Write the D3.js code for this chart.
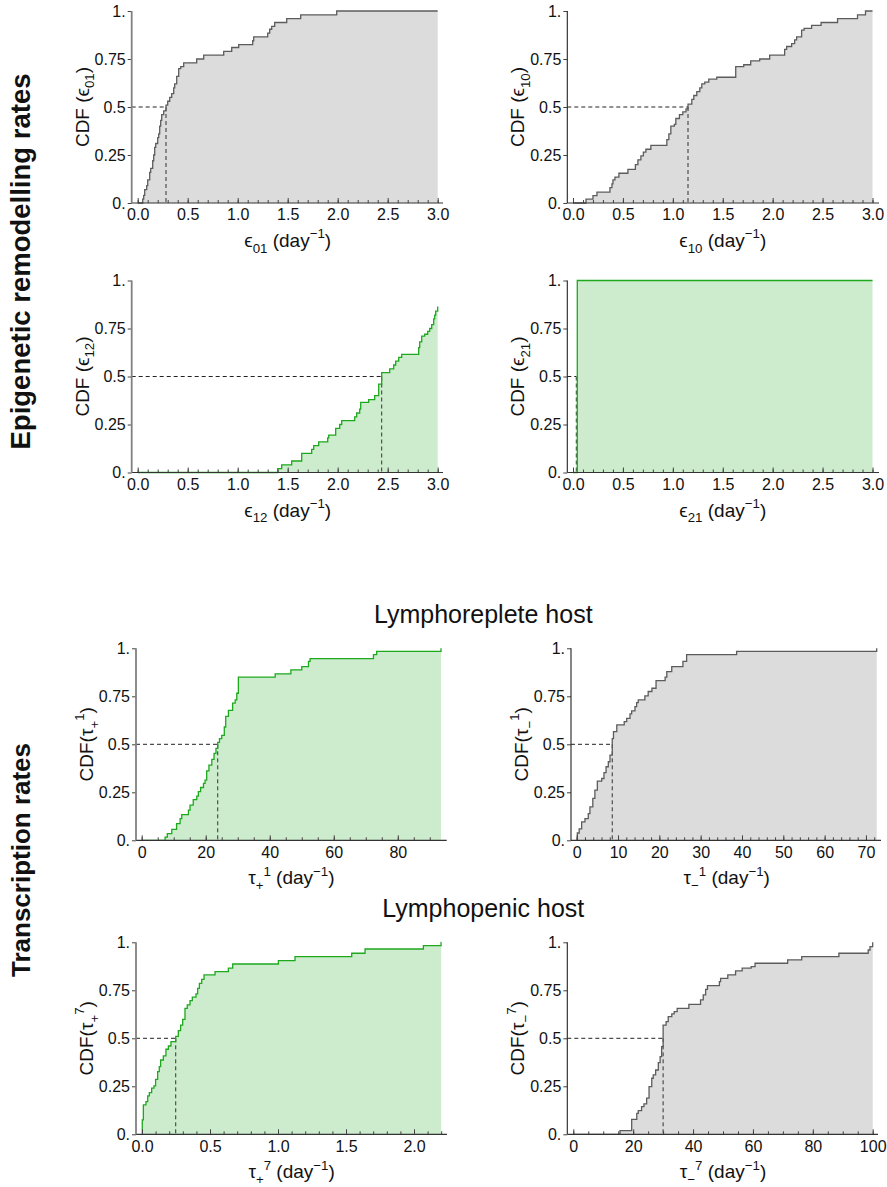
<!DOCTYPE html>
<html>
<head>
<meta charset="utf-8">
<script src="https://cdnjs.cloudflare.com/ajax/libs/d3/7.8.5/d3.min.js"></script>
<style>
body { margin: 0; background: #fff; }
svg { display: block; font-family: "Liberation Sans", Arial, Helvetica, sans-serif; }
</style>
</head>
<body>
<svg width="887" height="1187"></svg>
<script>
// step points: x where the CDF jumps, CDF level after the jump
var e01X = [0.05,0.06,0.07,0.09,0.10,0.12,0.13,0.15,0.16,0.17,0.18,0.20,0.21,0.22,0.23,0.24,0.26,0.283,0.30,0.32,
            0.34,0.36,0.37,0.39,0.41,0.43,0.46,0.59,0.66,0.86,0.94,1.01,1.15,1.16,1.30,1.32,1.34,1.37,1.49,1.63,1.99];
var e01Y = [0.02,0.04,0.07,0.09,0.12,0.16,0.18,0.22,0.25,0.29,0.31,0.34,0.36,0.40,0.43,0.46,0.48,0.51,0.53,0.55,
            0.57,0.60,0.62,0.66,0.70,0.71,0.73,0.75,0.77,0.79,0.81,0.825,0.845,0.865,0.885,0.905,0.92,0.94,0.96,0.98,1.0];

var e10X = [0.13,0.20,0.24,0.37,0.39,0.40,0.42,0.46,0.55,0.625,0.65,0.68,0.705,0.73,0.78,0.94,0.96,0.98,1.015,1.03,
            1.066,1.10,1.132,1.152,1.19,1.21,1.24,1.27,1.29,1.32,1.36,1.44,1.63,1.71,1.78,1.87,1.97,2.12,2.14,2.19,
            2.22,2.24,2.29,2.315,2.39,2.485,2.65,2.85,2.93];
var e10Y = [0.02,0.038,0.057,0.08,0.10,0.12,0.135,0.155,0.175,0.20,0.225,0.245,0.265,0.28,0.30,0.33,0.36,0.40,0.41,0.44,
            0.46,0.475,0.49,0.515,0.54,0.56,0.58,0.60,0.62,0.63,0.645,0.655,0.71,0.72,0.74,0.75,0.77,0.80,0.815,0.83,
            0.85,0.865,0.90,0.91,0.925,0.94,0.96,0.98,1.0];

var e12X = [1.40,1.44,1.54,1.64,1.74,1.76,1.81,1.90,1.91,1.98,2.02,2.04,2.17,2.19,2.22,2.23,2.31,2.37,2.41,2.44,
            2.52,2.56,2.58,2.61,2.64,2.81,2.82,2.84,2.87,2.90,2.92,2.94,2.96,2.97,2.98,3.0];
var e12Y = [0.02,0.04,0.06,0.10,0.12,0.14,0.16,0.18,0.195,0.23,0.25,0.27,0.29,0.31,0.33,0.365,0.38,0.40,0.46,0.52,
            0.54,0.56,0.58,0.60,0.615,0.65,0.68,0.71,0.72,0.735,0.75,0.77,0.80,0.82,0.84,0.865];

var e21X = [0.043];
var e21Y = [1.0];

var tp1X = [7.3,8.0,9.4,10.9,12.0,12.5,14.6,15.1,16.1,17.2,17.7,18.4,19.3,19.8,20.3,21.0,21.9,22.6,23.2,23.75,
            24.3,25.0,25.8,26.25,27.1,28.4,29.2,29.7,30.2,41.7,46.6,50.0,52.1,52.6,72.4,73.4,93.5];
var tp1Y = [0.017,0.035,0.057,0.087,0.113,0.134,0.157,0.183,0.212,0.23,0.253,0.275,0.296,0.313,0.362,0.392,0.422,0.453,0.479,0.51,
            0.53,0.547,0.59,0.645,0.677,0.714,0.731,0.766,0.85,0.867,0.888,0.905,0.932,0.946,0.967,0.984,1.0];

var tm1X = [0.15,0.6,1.2,2.0,2.8,3.2,3.9,4.4,5.0,6.05,6.6,7.1,7.65,8.06,8.6,8.9,9.7,11.5,12.1,12.9,
            13.3,14.1,14.5,14.9,16.5,17.3,18.2,19.2,21.4,21.8,23.0,25.7,26.6,38.7,72.6];
var tm1Y = [0.038,0.06,0.096,0.113,0.139,0.174,0.218,0.261,0.308,0.322,0.352,0.383,0.409,0.444,0.53,0.566,0.601,0.618,0.635,0.658,
            0.674,0.696,0.717,0.731,0.752,0.775,0.792,0.832,0.85,0.879,0.905,0.932,0.967,0.984,1.0];

var tp7X = [0.002,0.01,0.029,0.042,0.054,0.071,0.088,0.10,0.115,0.127,0.137,0.157,0.176,0.194,0.213,0.248,0.267,0.284,0.299,0.316,
            0.333,0.353,0.37,0.397,0.409,0.422,0.439,0.456,0.537,0.635,0.667,1.003,1.125,1.542,1.64,2.069,2.199];
var tp7Y = [0.075,0.153,0.17,0.2,0.217,0.24,0.252,0.286,0.326,0.352,0.387,0.408,0.443,0.46,0.483,0.51,0.54,0.569,0.599,0.656,
            0.674,0.696,0.714,0.731,0.76,0.786,0.807,0.83,0.847,0.865,0.887,0.905,0.925,0.943,0.965,0.983,1.0];

var tm7X = [15.6,19.5,21.2,21.7,22.8,23.6,24.5,25.3,26.2,26.7,27.5,28.4,29.0,29.5,30.0,31.0,31.7,32.9,33.7,34.7,
            38.6,42.5,43.4,44.2,44.8,48.8,49.2,51.6,54.2,56.4,59.4,60.7,71.6,76.3,88.7,98.5,99.1,100];
var tm7Y = [0.019,0.078,0.109,0.123,0.144,0.158,0.188,0.248,0.292,0.309,0.335,0.373,0.405,0.457,0.569,0.587,0.613,0.627,0.639,0.656,
            0.677,0.70,0.726,0.755,0.774,0.795,0.812,0.83,0.851,0.865,0.873,0.891,0.908,0.925,0.943,0.96,0.977,1.0];

// medians (dashed guides)
var medians = [0.283, 1.152, 2.44, 0.033, 23.75, 8.6, 0.248, 30.0];

// ticks
var yTicks = [0, 0.25, 0.5, 0.75, 1];
var yTickLabels = ["0.", "0.25", "0.5", "0.75", "1."];
var epiTicks = [0, 0.5, 1, 1.5, 2, 2.5, 3];
var tp1Ticks = [0, 20, 40, 60, 80];
var tm1Ticks = [0, 10, 20, 30, 40, 50, 60, 70];
var tp7Ticks = [0, 0.5, 1, 1.5, 2];
var tm7Ticks = [0, 20, 40, 60, 80, 100];

var titles = ["Lymphoreplete host", "Lymphopenic host"];
var rowLabels = ["Epigenetic remodelling rates", "Transcription rates"];

// label pieces: 0 normal, 1 subscript, 2 superscript
function epsY(s) { return [["CDF (\u03f5", 0], [s, 1], [")", 0]]; }
function epsX(s) { return [["\u03f5", 0], [s, 1], [" (day", 0], ["\u22121", 2], [")", 0]]; }
function tauY(s, k) { return [["CDF(\u03c4", 0], [s, 1], [k, 2], [")", 0]]; }
function tauX(s, k) { return [["\u03c4", 0], [s, 1], [k, 2], [" (day", 0], ["\u22121", 2], [")", 0]]; }

var H = 192;
var f1 = d3.format(".1f"), f0 = d3.format("d");

var panels = [
    {xs: e01X, ys: e01Y, med: medians[0], dom: [0, 3], rng: [137.7, 437.7], top: 11, ax: 131.7, axEnd: 443, green: false, left: true,
     ticks: epiTicks, minor: 0.1, fmt: f1, ylab: epsY("01"), xlab: epsX("01")},
    {xs: e10X, ys: e10Y, med: medians[1], dom: [0, 3], rng: [573, 872.5], top: 11, ax: 567.3, axEnd: 879, green: false, left: false,
     ticks: epiTicks, minor: 0.1, fmt: f1, ylab: epsY("10"), xlab: epsX("10")},
    {xs: e12X, ys: e12Y, med: medians[2], dom: [0, 3], rng: [137.7, 437.7], top: 280.5, ax: 131.7, axEnd: 443, green: true, left: true,
     ticks: epiTicks, minor: 0.1, fmt: f1, ylab: epsY("12"), xlab: epsX("12")},
    {xs: e21X, ys: e21Y, med: medians[3], dom: [0, 3], rng: [573, 872.5], top: 280.5, ax: 567.3, axEnd: 879, green: true, left: false,
     ticks: epiTicks, minor: 0.1, fmt: f1, ylab: epsY("21"), xlab: epsX("21")},
    {xs: tp1X, ys: tp1Y, med: medians[4], dom: [0, 93.5], rng: [141.7, 441], top: 648.3, ax: 136, axEnd: 446.7, green: true, left: true,
     ticks: tp1Ticks, minor: 5, fmt: f0, ylab: tauY("+", "1"), xlab: tauX("+", "1")},
    {xs: tm1X, ys: tm1Y, med: medians[5], dom: [0, 72.6], rng: [576.7, 876.7], top: 648.3, ax: 571, axEnd: 881, green: false, left: false,
     ticks: tm1Ticks, minor: 2, fmt: f0, ylab: tauY("\u2212", "1"), xlab: tauX("\u2212", "1")},
    {xs: tp7X, ys: tp7Y, med: medians[6], dom: [0, 2.2], rng: [142, 441.2], top: 942.3, ax: 136, axEnd: 447, green: true, left: true,
     ticks: tp7Ticks, minor: 0.1, fmt: f1, ylab: tauY("+", "7"), xlab: tauX("+", "7")},
    {xs: tm7X, ys: tm7Y, med: medians[7], dom: [0, 100], rng: [573.3, 872.7], top: 942.3, ax: 567.3, axEnd: 878, green: false, left: false,
     ticks: tm7Ticks, minor: 5, fmt: f0, ylab: tauY("\u2212", "7"), xlab: tauX("\u2212", "7")}
];

var svg = d3.select("svg");

function richText(sel, parts, size) {
    var cur = 0;
    parts.forEach(function (p) {
        var shift = p[1] == 1 ? 0.3 : (p[1] == 2 ? -0.45 : 0);
        var fs = p[1] ? size * 0.7 : size;
        sel.append("tspan")
            .attr("dy", ((shift - cur) * size).toFixed(2))
            .style("font-size", fs + "px")
            .text(p[0]);
        cur = shift;
    });
}

panels.forEach(function (p) {
    var g = svg.append("g");
    var x = d3.scaleLinear().domain(p.dom).range(p.rng);
    var y = d3.scaleLinear().domain([0, 1]).range([p.top + H, p.top]);

    var pts = [[p.dom[0], 0]];
    p.xs.forEach(function (v, i) { pts.push([v, p.ys[i]]); });
    if (pts[pts.length - 1][0] < p.dom[1]) pts.push([p.dom[1], pts[pts.length - 1][1]]);

    var lineCol = p.green ? "#1ea81e" : "#5c5c5c";
    var fillCol = p.green ? "#cdeccd" : "#dcdcdc";

    var area = d3.area().curve(d3.curveStepAfter)
        .x(function (d) { return x(d[0]); })
        .y0(y(0))
        .y1(function (d) { return y(d[1]); });
    var line = d3.line().curve(d3.curveStepAfter)
        .x(function (d) { return x(d[0]); })
        .y(function (d) { return y(d[1]); });

    g.append("path").datum(pts).attr("d", area).attr("fill", fillCol);

    // median guides
    g.append("line")
        .attr("x1", p.ax).attr("x2", x(p.med))
        .attr("y1", y(0.5)).attr("y2", y(0.5))
        .attr("stroke", "#222").attr("stroke-width", 1).attr("stroke-dasharray", "4,3");
    g.append("line")
        .attr("x1", x(p.med)).attr("x2", x(p.med))
        .attr("y1", y(0.5)).attr("y2", y(0))
        .attr("stroke", "#333").attr("stroke-width", 1).attr("stroke-dasharray", "4,3");

    g.append("path").datum(pts).attr("d", line)
        .attr("fill", "none").attr("stroke", lineCol).attr("stroke-width", 1.3);

    // x axis: minor + major ticks pointing up
    var minorTicks = d3.range(p.dom[0], p.dom[1] + 1e-9, p.minor);
    var gxm = g.append("g").attr("transform", "translate(0," + y(0) + ")")
        .call(d3.axisBottom(x).tickValues(minorTicks).tickSize(-3).tickSizeOuter(0).tickFormat(""));
    var gx = g.append("g").attr("transform", "translate(0," + y(0) + ")")
        .call(d3.axisBottom(x).tickValues(p.ticks).tickSize(-5).tickSizeOuter(0).tickPadding(6).tickFormat(p.fmt));
    [gxm, gx].forEach(function (a) {
        a.select(".domain").remove();
        a.selectAll(".tick line").attr("stroke", "#444");
    });
    gx.selectAll("text").style("font-size", "16px").attr("fill", "#111")
        .style("font-family", '"Liberation Sans", Arial, sans-serif');

    g.append("line")
        .attr("x1", p.ax).attr("x2", p.axEnd)
        .attr("y1", y(0)).attr("y2", y(0))
        .attr("stroke", "#333").attr("stroke-width", 1.2);

    // y axis
    var gy = g.append("g").attr("transform", "translate(" + p.ax + ",0)")
        .call(d3.axisLeft(y).tickValues(yTicks).tickSize(4).tickSizeOuter(0).tickPadding(2)
            .tickFormat(function (d, i) { return yTickLabels[i]; }));
    gy.select(".domain").remove();
    gy.selectAll(".tick line").attr("stroke", "#444");
    gy.selectAll("text").style("font-size", "16px").attr("fill", "#111")
        .style("font-family", '"Liberation Sans", Arial, sans-serif');
    g.append("line")
        .attr("x1", p.ax).attr("x2", p.ax)
        .attr("y1", y(0)).attr("y2", y(1))
        .attr("stroke", p.left ? "#808080" : "#222")
        .attr("stroke-width", p.left ? 1.8 : 1.1);

    // axis labels
    var xl = g.append("text")
        .attr("x", (p.rng[0] + p.rng[1]) / 2)
        .attr("y", y(0) + 44)
        .attr("text-anchor", "middle")
        .attr("fill", "#111");
    richText(xl, p.xlab, 19);

    var yl = g.append("text")
        .attr("transform", "translate(" + (p.ax - 43) + "," + (p.top + H / 2) + ") rotate(-90)")
        .attr("text-anchor", "middle")
        .attr("fill", "#111");
    richText(yl, p.ylab, 19);
});

// section titles
svg.append("text").attr("x", 483.3).attr("y", 622.5).attr("text-anchor", "middle")
    .style("font-size", "25px").attr("fill", "#111").text(titles[0]);
svg.append("text").attr("x", 483.3).attr("y", 916.5).attr("text-anchor", "middle")
    .style("font-size", "25px").attr("fill", "#111").text(titles[1]);

// row labels
svg.append("text").attr("transform", "translate(30,261.5) rotate(-90)")
    .attr("text-anchor", "middle").style("font-size", "27.5px").style("font-weight", "bold")
    .attr("fill", "#111").text(rowLabels[0]);
svg.append("text").attr("transform", "translate(30,860) rotate(-90)")
    .attr("text-anchor", "middle").style("font-size", "26px").style("font-weight", "bold")
    .attr("fill", "#111").text(rowLabels[1]);
</script>
</body>
</html>
